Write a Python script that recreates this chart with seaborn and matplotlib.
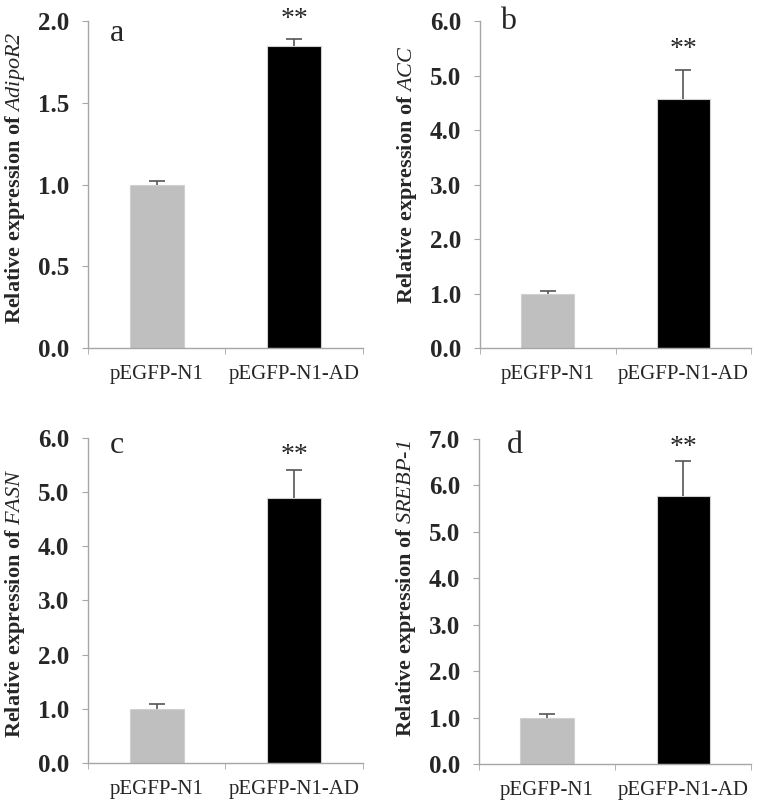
import pandas as pd
import matplotlib
matplotlib.use("Agg")
import matplotlib.pyplot as plt
import seaborn as sns

groups = ["pEGFP-N1", "pEGFP-N1-AD"]
bar_colors = ["#bfbfbf", "#000000"]

panel_letters = ["a", "b", "c", "d"]
genes = ["AdipoR2", "ACC", "FASN", "SREBP-1"]
means = [[1.00, 1.85], [1.00, 4.57], [1.00, 4.88], [1.00, 5.78]]
errs = [[0.02, 0.04], [0.05, 0.54], [0.09, 0.53], [0.07, 0.74]]
y_max = [2.0, 6.0, 6.0, 7.0]
y_step = [0.5, 1.0, 1.0, 1.0]
star_y = [2.01, 5.48, 5.68, 6.82]

sns.set_style("white")
plt.rcParams["font.family"] = ["Liberation Serif", "DejaVu Serif"]
plt.rcParams["mathtext.fontset"] = "custom"
# gene names are fully italic, digits and hyphen included
plt.rcParams["mathtext.it"] = "Liberation Serif:italic"
plt.rcParams["mathtext.rm"] = "Liberation Serif:italic"

axis_grey = "#a6a6a6"


def gene_label(name):
    parts = name.split("-")
    body = r"\text{-}".join(r"\mathit{" + p + "}" for p in parts)
    return "Relative expression of $" + body + "$"


fig = plt.figure(figsize=(7.59, 8.07), dpi=100)
positions = [
    [0.116, 0.5688, 0.362, 0.4048],
    [0.632, 0.5688, 0.358, 0.4048],
    [0.116, 0.0542, 0.362, 0.4034],
    [0.631, 0.0533, 0.359, 0.4027],
]
letter_xy = [(0.105, 0.964), (0.103, 0.998), (0.105, 0.977), (0.132, 0.98)]
label_y = [0.52, 0.53, 0.49, 0.54]

for i in range(4):
    ax = fig.add_axes(positions[i])
    df = pd.DataFrame({"group": groups, "value": means[i]})
    sns.barplot(data=df, x="group", y="value", hue="group", palette=bar_colors,
                legend=False, errorbar=None, width=0.39, edgecolor="#d0d0d0",
                linewidth=0.8, ax=ax)
    eb = ax.errorbar(range(len(groups)), means[i], yerr=[[0, 0], errs[i]], fmt="none",
                     ecolor="#555555", elinewidth=1.2, capsize=6, capthick=1.2, zorder=3)
    eb[1][0].set_visible(False)

    ax.set_xlim(-0.5, 1.5)
    ax.set_ylim(0, y_max[i])
    n = int(round(y_max[i] / y_step[i]))
    ax.set_yticks([k * y_step[i] for k in range(n + 1)])
    ax.set_yticklabels([f"{k * y_step[i]:.1f}" for k in range(n + 1)],
                       fontsize=18, fontweight="bold")
    ax.set_xticks([0, 1])
    ax.set_xticklabels(groups, fontsize=15)
    ax.set_xticks([-0.5, 0.5, 1.5], minor=True)
    ax.tick_params(axis="x", which="major", length=0, pad=12)
    ax.tick_params(axis="x", which="minor", length=4.5, color=axis_grey,
                   direction="out", bottom=True)
    ax.tick_params(axis="y", length=4.5, color=axis_grey, direction="out",
                   left=True, pad=9)

    for side in ["top", "right"]:
        ax.spines[side].set_visible(False)
    for side in ["left", "bottom"]:
        ax.spines[side].set_color(axis_grey)
        ax.spines[side].set_linewidth(1.0)

    ax.set_xlabel("")
    ax.set_ylabel(gene_label(genes[i]), fontsize=16, fontweight="bold")
    ax.yaxis.set_label_coords(-0.222, label_y[i])

    ax.text(1, star_y[i], "**", ha="center", va="center", fontsize=20)
    ax.text(letter_xy[i][0], letter_xy[i][1], panel_letters[i],
            transform=ax.transAxes, ha="center", va="center", fontsize=23)

fig.savefig("out.png", dpi=100)
